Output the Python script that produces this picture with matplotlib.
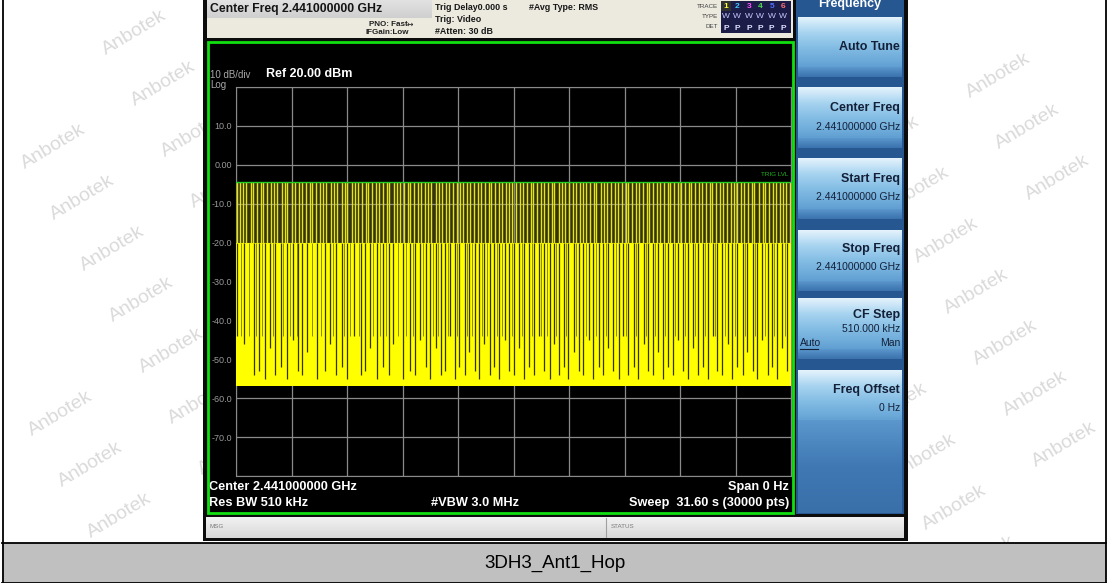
import numpy as np
import matplotlib
matplotlib.use('Agg')
import matplotlib.pyplot as plt
from matplotlib.patches import Rectangle
from matplotlib.colors import LinearSegmentedColormap

# ---- trace data ----
sweep_time = 31.6        # s, zero span
ref_level = 20.0         # dBm
db_per_div = 10.0
trig_level = -4.3        # dBm, green trigger line
block_top = -20.0        # top of the dense yellow block
floor_bottom = -56.9     # lower edge of the noise floor

spike_times = [0.06, 0.22, 0.41, 0.58, 0.83, 0.97, 1.19, 1.42, 1.55, 1.78, 2.02, 2.17, 2.36, 2.61,
               2.79, 2.93, 3.18, 3.37, 3.60, 3.74, 3.99, 4.21, 4.35, 4.57, 4.80, 4.96, 5.15, 5.41,
               5.57, 5.74, 6.01, 6.19, 6.34, 6.58, 6.79, 6.95, 7.20, 7.38, 7.53, 7.77, 7.99, 8.14,
               8.38, 8.57, 8.71, 8.97, 9.16, 9.31, 9.55, 9.78, 9.92, 10.15, 10.37, 10.52, 10.76,
               10.96, 11.13, 11.36, 11.55, 11.72, 11.97, 12.14, 12.33, 12.58, 12.73, 12.94, 13.17,
               13.32, 13.56, 13.77, 13.93, 14.16, 14.38, 14.53, 14.75, 14.97, 15.12, 15.36, 15.57,
               15.72, 15.95, 16.18, 16.33, 16.55, 16.79, 16.93, 17.15, 17.39, 17.54, 17.76, 17.98,
               18.13, 18.37, 18.58, 18.72, 18.96, 19.17, 19.34, 19.57, 19.76, 19.93, 20.17, 20.37,
               20.52, 20.77, 20.95, 21.12, 21.36, 21.58, 21.73, 21.95, 22.18, 22.32, 22.56, 22.77,
               22.94, 23.16, 23.38, 23.53, 23.75, 23.99, 24.13, 24.37, 24.57, 24.72, 24.95, 25.18,
               25.33, 25.56, 25.78, 25.92, 26.16, 26.37, 26.52, 26.76, 26.97, 27.12, 27.35, 27.58,
               27.73, 27.94, 28.18, 28.33, 28.55, 28.77, 28.93, 29.15, 29.38, 29.52, 29.75, 29.98,
               30.13, 30.36, 30.57, 30.72, 30.95, 31.17, 31.33, 31.52]

gap_times = [0.06, 0.46, 1.02, 1.31, 1.65, 1.94, 2.22, 2.56, 2.90, 3.25, 3.53, 3.76, 4.04, 4.61,
             5.07, 5.35, 5.69, 6.04, 6.32, 6.72, 7.12, 7.35, 7.63, 8.03, 8.37, 8.71, 8.94, 9.51,
             9.91, 10.19, 10.48, 10.81, 11.02, 11.37, 11.66, 11.88, 12.21, 12.47, 12.70, 13.05,
             13.29, 13.58, 13.84, 14.12, 14.47, 14.69, 14.98, 15.31, 15.55, 15.82, 16.14, 16.40,
             16.66, 16.99, 17.23, 17.52, 17.86, 18.08, 18.37, 18.69, 18.93, 19.24, 19.51, 19.78,
             20.09, 20.33, 20.64, 20.92, 21.19, 21.47, 21.80, 22.03, 22.33, 22.64, 22.88, 23.21,
             23.46, 23.73, 24.04, 24.31, 24.58, 24.90, 25.14, 25.45, 25.71, 26.00, 26.30, 26.57,
             26.85, 27.16, 27.41, 27.69, 28.02, 28.26, 28.55, 28.86, 29.10, 29.42, 29.69, 29.96,
             30.28, 30.52, 30.81, 31.10, 31.40]
gap_bottoms = [-44, -46, -54, -53, -55, -47, -54, -52, -55, -45, -53, -54, -48, -55, -53, -46, -54,
               -52, -55, -44, -54, -53, -47, -55, -52, -54, -46, -55, -53, -54, -45, -52, -55, -47,
               -54, -53, -44, -55, -52, -54, -48, -53, -55, -46, -54, -52, -55, -45, -53, -54, -47,
               -55, -52, -54, -44, -53, -55, -46, -54, -52, -55, -48, -53, -54, -45, -55, -52, -54,
               -47, -53, -55, -44, -54, -52, -55, -46, -53, -54, -48, -55, -52, -54, -45, -53, -55,
               -47, -54, -52, -55, -44, -53, -54, -46, -55, -52, -54, -48, -53, -55, -45, -54, -52,
               -55, -47, -53]
# fainter, shorter dips in the upper part of the block
shallow_gap_times = [0.30, 0.75, 1.12, 1.48, 2.10, 2.70, 3.05, 3.45, 4.30, 4.85, 5.55, 6.15, 6.50,
                     7.00, 7.80, 8.20, 8.55, 9.20, 9.70, 10.05, 10.65, 11.20, 11.52, 12.05, 12.60,
                     13.15, 13.45, 13.98, 14.30, 14.85, 15.15, 15.70, 16.27, 16.85, 17.38, 17.70,
                     18.22, 18.80, 19.38, 19.95, 20.48, 21.05, 21.62, 22.18, 22.75, 23.34, 23.88,
                     24.45, 25.02, 25.58, 26.15, 26.70, 27.28, 27.85, 28.40, 28.98, 29.55, 30.12,
                     30.66, 31.25]
shallow_gap_bottom = -44.0

y_tick_values = [20, 10, 0, -10, -20, -30, -40, -50, -60, -70, -80]
y_tick_labels = ['', '10.0', '0.00', '-10.0', '-20.0', '-30.0', '-40.0', '-50.0', '-60.0', '-70.0', '']

header_title = 'Center Freq 2.441000000 GHz'
header_trig = ['Trig Delay0.000 s', 'Trig: Video', '#Atten: 30 dB']
bottom_left = ['Center 2.441000000 GHz', 'Res BW 510 kHz']
bottom_mid = '#VBW 3.0 MHz'
bottom_right = ['Span 0 Hz', 'Sweep  31.60 s (30000 pts)']
caption = '3DH3_Ant1_Hop'

softkey_titles = ['Auto Tune', 'Center Freq', 'Start Freq', 'Stop Freq', 'CF Step', 'Freq Offset']
softkey_values = ['', '2.441000000 GHz', '2.441000000 GHz', '2.441000000 GHz', '510.000 kHz', '0 Hz']

W, H = 1111, 583
NARROW = ['Liberation Sans Narrow', 'Liberation Sans', 'DejaVu Sans']
ARIAL = ['Liberation Sans', 'DejaVu Sans']

fig = plt.figure(figsize=(W / 100, H / 100), dpi=100)
fig.patch.set_facecolor('white')

# background axes in pixel coordinates (y down)
bg = fig.add_axes([0, 0, 1, 1])
bg.set_xlim(0, W)
bg.set_ylim(H, 0)
bg.axis('off')


def rect(x0, y0, x1, y1, color, z=1, **kw):
    bg.add_patch(Rectangle((x0, y0), x1 - x0, y1 - y0, facecolor=color, edgecolor='none', zorder=z, **kw))


def txt(x, y, s, size, color='black', ha='left', weight='normal', family=NARROW, z=5, **kw):
    bg.text(x, y, s, fontsize=size, color=color, ha=ha, va='center', fontweight=weight,
            family=family, zorder=z, **kw)


def gradient(x0, y0, x1, y1, colors, z=2):
    cmap = LinearSegmentedColormap.from_list('g', colors)
    bg.imshow(np.linspace(0, 1, 64).reshape(-1, 1), cmap=cmap, aspect='auto',
              extent=(x0, x1, y1, y0), zorder=z, interpolation='bilinear')


# watermarks (only the ones that fit inside the page)
for ox, oy, xmin, xmax in [(53, 147, 40, 235), (1057, 178, 870, 1068)]:
    for i in range(-14, 15):
        for j in range(-3, 4):
            x = ox + 29.5 * i + 140 * j
            y = oy + 51 * i - 12 * j
            if xmin < x < xmax and 26 < y < 560:
                bg.text(x, y, 'Anbotek', rotation=31, rotation_mode='anchor', ha='center', va='center',
                        fontsize=14, color='#dadada', family=ARIAL, zorder=0.5)

# caption band and outer frame
rect(2, 543, 1106, 583, '#c0c0c0', z=3)
bg.plot([2.5, 2.5], [0, 583], color='black', lw=1.3, zorder=4)
bg.plot([1105.5, 1105.5], [0, 583], color='black', lw=1.3, zorder=4)
bg.plot([2, 1106], [543, 543], color='black', lw=1.3, zorder=4)
bg.plot([2, 1106], [582.5, 582.5], color='black', lw=1.3, zorder=4)
txt(555, 563, caption, 13.5, ha='center')

# instrument screen frame
rect(203, -1, 908, 541, '#0c0c0c', z=1)

# header
rect(207, 0, 793, 38, '#ece9de', z=2)
gradient(207, 0, 432, 18, ['#e2e2e2', '#cfcfcf'], z=2)
txt(210, 9, header_title, 8.8, color='#141414', weight='bold')
txt(369, 24, 'PNO: Fast', 5.8, color='#202020', weight='bold')
txt(407, 24, '\u2194', 5.5, color='#202020', family=['DejaVu Sans'])
txt(366, 33, 'IFGain:Low', 5.8, color='#202020', weight='bold')
for k, s in enumerate(header_trig):
    txt(435, 7 + k * 12, s, 6.4, color='#181818', weight='bold')
txt(529, 7, '#Avg Type: RMS', 6.4, color='#181818', weight='bold')
txt(718, 6, 'TRACE', 4.5, color='#404040', ha='right')
txt(718, 16, 'TYPE', 4.5, color='#404040', ha='right')
txt(718, 27, 'DET', 4.5, color='#404040', ha='right')
rect(721, 1, 791, 33, '#1c1c48', z=2.5)
rect(721, 1, 731, 11, '#303030', z=2.6)
for k, c in enumerate(['#ffff40', '#40c8ff', '#ff50ff', '#50e050', '#5070ff', '#ff7070']):
    txt(726 + k * 11.4, 6.5, str(k + 1), 6, color=c, ha='center', weight='bold')
    txt(726 + k * 11.4, 17, 'W', 6, color='#c8c8ff', ha='center')
    txt(726 + k * 11.4, 28, 'P', 6, color='#e0e0ff', ha='center', weight='bold')

# display area
rect(207, 41, 793, 513, 'black', z=2)
txt(210, 75, '10 dB/div', 7, color='#a8a8a8')
txt(210, 85, 'Log', 7, color='#a8a8a8')
txt(266, 74, 'Ref 20.00 dBm', 9, color='white', weight='bold')
txt(209, 487, bottom_left[0], 9.2, color='white', weight='bold')
txt(209, 503, bottom_left[1], 9.2, color='white', weight='bold')
txt(431, 503, bottom_mid, 9.2, color='white', weight='bold')
txt(789, 487, bottom_right[0], 9.2, color='white', weight='bold', ha='right')
txt(789, 503, bottom_right[1], 9.2, color='white', weight='bold', ha='right')

# message bar
gradient(206, 517, 904, 538, ['#f2f2f2', '#d8d8d8'], z=2)
bg.plot([606, 606], [518, 537], color='#a0a0a0', lw=0.8, zorder=3)
txt(209, 527, 'MSG', 4.5, color='#7a7a7a')
txt(611, 527, 'STATUS', 4.5, color='#7a7a7a')

# softkey panel
rect(796, 0, 904, 514, '#265790', z=2)
txt(850, 4, 'Frequency', 9, color='white', weight='bold', ha='center', family=ARIAL)
btn_spans = [(17, 77), (87, 148), (158, 219), (230, 291), (298, 359), (370, 432)]
btn_colors = ['#e4f3fc', '#a8d4f0', '#84bde4', '#6aa8d8', '#4f8ec6']
for y0, y1 in btn_spans:
    gradient(798, y0, 902, y1, btn_colors, z=2.5)
for y0, y1 in btn_spans[:-1]:
    gradient(798, y1 - 10, 902, y1, ['#5b96cc', '#3a72ad'], z=2.6)
gradient(798, 420, 902, 513, ['#5b96cc', '#3f78b3', '#3a70aa'], z=2.6)
txt(900, 47, softkey_titles[0], 9, color='#142038', weight='bold', ha='right', family=ARIAL)
for k, (ty, vy) in enumerate([(108, 127), (179, 197), (249, 267)]):
    txt(900, ty, softkey_titles[k + 1], 9, color='#142038', weight='bold', ha='right', family=ARIAL)
    txt(900, vy, softkey_values[k + 1], 7.5, color='#142038', ha='right', family=ARIAL)
txt(900, 315, softkey_titles[4], 9, color='#142038', weight='bold', ha='right', family=ARIAL)
txt(900, 329, softkey_values[4], 7.5, color='#142038', ha='right', family=ARIAL)
txt(800, 343, 'Auto', 7.5, color='#142038', family=ARIAL)
bg.plot([800, 818], [348.5, 348.5], color='#142038', lw=0.8, zorder=5)
txt(900, 343, 'Man', 7.5, color='#142038', ha='right', family=ARIAL)
txt(900, 390, softkey_titles[5], 9, color='#142038', weight='bold', ha='right', family=ARIAL)
txt(900, 408, softkey_values[5], 7.5, color='#142038', ha='right', family=ARIAL)

# ---- the trace plot ----
ax = fig.add_axes([236 / W, 1 - 476 / H, 555 / W, 389 / H])
ax.set_facecolor('black')
ax.set_xlim(0, sweep_time)
ax.set_ylim(ref_level - 10 * db_per_div, ref_level)
ax.set_xticks(np.linspace(0, sweep_time, 11))
ax.set_xticklabels([])
ax.set_yticks(y_tick_values)
ax.set_yticklabels(y_tick_labels)
ax.tick_params(length=0, pad=3, labelsize=6.5, labelcolor='#9a9a9a')
for lab in ax.get_yticklabels():
    lab.set_family(NARROW)
ax.set_axisbelow(False)
ax.grid(True, color='#8a8a8a', lw=0.9)
for sp in ax.spines.values():
    sp.set_color('#8a8a8a')

ax.fill_between([0, sweep_time], block_top, trig_level, color='#33321a', lw=0, zorder=1)
ax.fill_between([0, sweep_time], floor_bottom, block_top, color='#ffff00', lw=0, zorder=3)
ax.vlines(shallow_gap_times, shallow_gap_bottom, block_top, color='#8a8a06', lw=0.7, zorder=4)
ax.vlines(gap_times, gap_bottoms, block_top, color='#343408', lw=0.9, zorder=4)
ax.vlines(spike_times, block_top, trig_level, color='#e8e800', lw=1.0, zorder=5)
ax.axhline(trig_level, color='#22cc22', lw=1, zorder=6)
ax.text(0.995, trig_level + 1.2, 'TRIG LVL', transform=ax.get_yaxis_transform(), ha='right',
        va='bottom', fontsize=4.5, color='#22bb22', family=NARROW, zorder=7)

# green display border on top
top = fig.add_axes([0, 0, 1, 1], facecolor='none')
top.set_xlim(0, W)
top.set_ylim(H, 0)
top.axis('off')
top.add_patch(Rectangle((207.5, 41.5), 585, 471, facecolor='none', edgecolor='#10e010', lw=2))

fig.savefig('out.png', dpi=100)
